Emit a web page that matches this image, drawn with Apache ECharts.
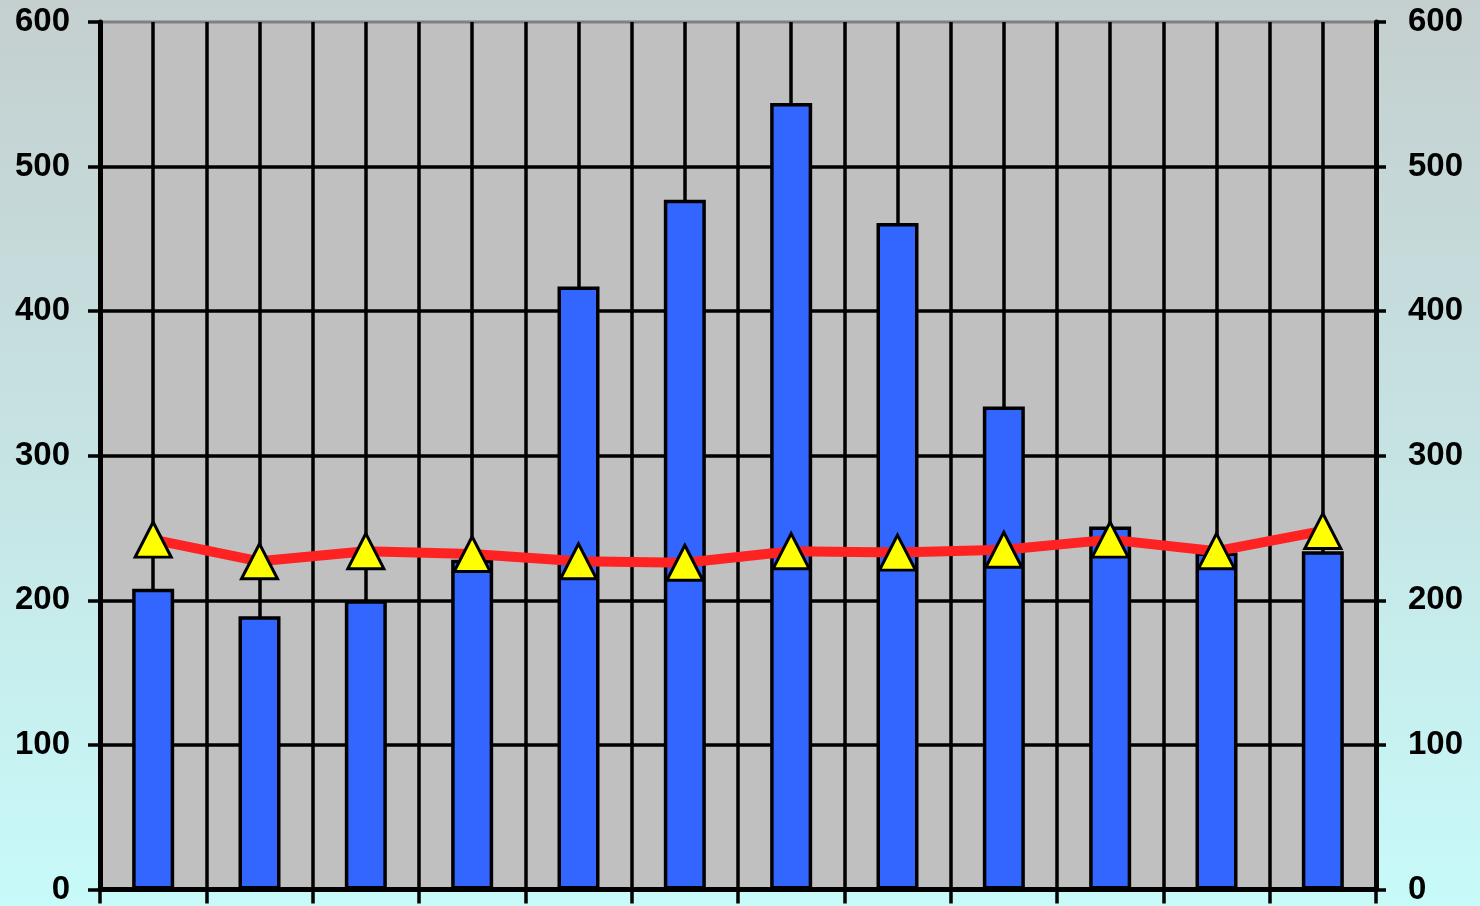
<!DOCTYPE html>
<html>
<head>
<meta charset="utf-8">
<style>
  html, body { margin: 0; padding: 0; }
  #chart { width: 1480px; height: 906px; }
</style>
<script src="https://cdn.jsdelivr.net/npm/echarts@6/dist/echarts.min.js"></script>
</head>
<body>
<div id="chart"></div>
<script>
// Twelve periods, bar values on the left axis and line values on the right axis
const categories = ['1', '2', '3', '4', '5', '6', '7', '8', '9', '10', '11', '12'];
const barValues = [208, 189, 200, 228, 417, 477, 544, 461, 334, 251, 233, 234];
const lineValues = [242, 227, 234, 232, 227, 226, 234, 233, 235, 242, 234, 248];
const axisTicks = [0, 100, 200, 300, 400, 500, 600];

const labelFont = {
  fontFamily: '"Liberation Sans", Arial, sans-serif',
  fontWeight: 'bold',
  fontSize: 33,
  color: '#000'
};

const chart = echarts.init(document.getElementById('chart'));
chart.setOption({
  animation: false,
  backgroundColor: {
    type: 'linear', x: 0, y: 0, x2: 0, y2: 1,
    colorStops: [
      { offset: 0, color: '#c5cfcf' },
      { offset: 0.5, color: '#c6e3e3' },
      { offset: 1, color: '#c8fafa' }
    ]
  },
  grid: {
    left: 100, right: 104, top: 22, bottom: 16,
    show: true,
    backgroundColor: '#c0c0c0',
    borderColor: '#808080',
    borderWidth: 3
  },
  xAxis: [
    {
      type: 'category',
      data: categories,
      boundaryGap: true,
      axisLine: { lineStyle: { color: '#000', width: 5 } },
      axisTick: { show: true, length: 14, lineStyle: { color: '#000', width: 3.5 } },
      axisLabel: { show: false },
      splitLine: { show: false }
    },
    {
      // half-category grid: lines at every boundary and every category centre
      type: 'value',
      min: 0, max: categories.length * 2, interval: 1,
      position: 'bottom',
      axisLine: { show: false },
      axisTick: { show: false },
      axisLabel: { show: false },
      splitLine: { show: true, lineStyle: { color: '#000', width: 3.5 } }
    }
  ],
  yAxis: [
    {
      type: 'value',
      min: axisTicks[0], max: axisTicks[axisTicks.length - 1], interval: 100,
      position: 'left',
      axisLine: { show: true, lineStyle: { color: '#000', width: 5 } },
      axisTick: { show: true, length: 12, lineStyle: { color: '#000', width: 3.5 } },
      axisLabel: Object.assign({ margin: 30 }, labelFont),
      splitLine: { show: true, showMaxLine: false, lineStyle: { color: '#000', width: 3.5 } }
    },
    {
      type: 'value',
      min: axisTicks[0], max: axisTicks[axisTicks.length - 1], interval: 100,
      position: 'right',
      axisLine: { show: true, lineStyle: { color: '#000', width: 5 } },
      axisTick: { show: true, length: 10, lineStyle: { color: '#000', width: 3.5 } },
      axisLabel: Object.assign({ margin: 32 }, labelFont),
      splitLine: { show: false }
    }
  ],
  series: [
    {
      type: 'bar',
      xAxisIndex: 0,
      yAxisIndex: 0,
      data: barValues,
      barWidth: 42,
      itemStyle: { color: '#3366ff', borderColor: '#000', borderWidth: 3.5 },
      z: 3
    },
    {
      type: 'line',
      xAxisIndex: 0,
      yAxisIndex: 1,
      data: lineValues,
      lineStyle: { color: '#ff2222', width: 10 },
      symbol: 'triangle',
      symbolSize: [36, 35],
      itemStyle: { color: '#ffff00', borderColor: '#000', borderWidth: 3 },
      z: 5
    }
  ]
});
</script>
</body>
</html>
